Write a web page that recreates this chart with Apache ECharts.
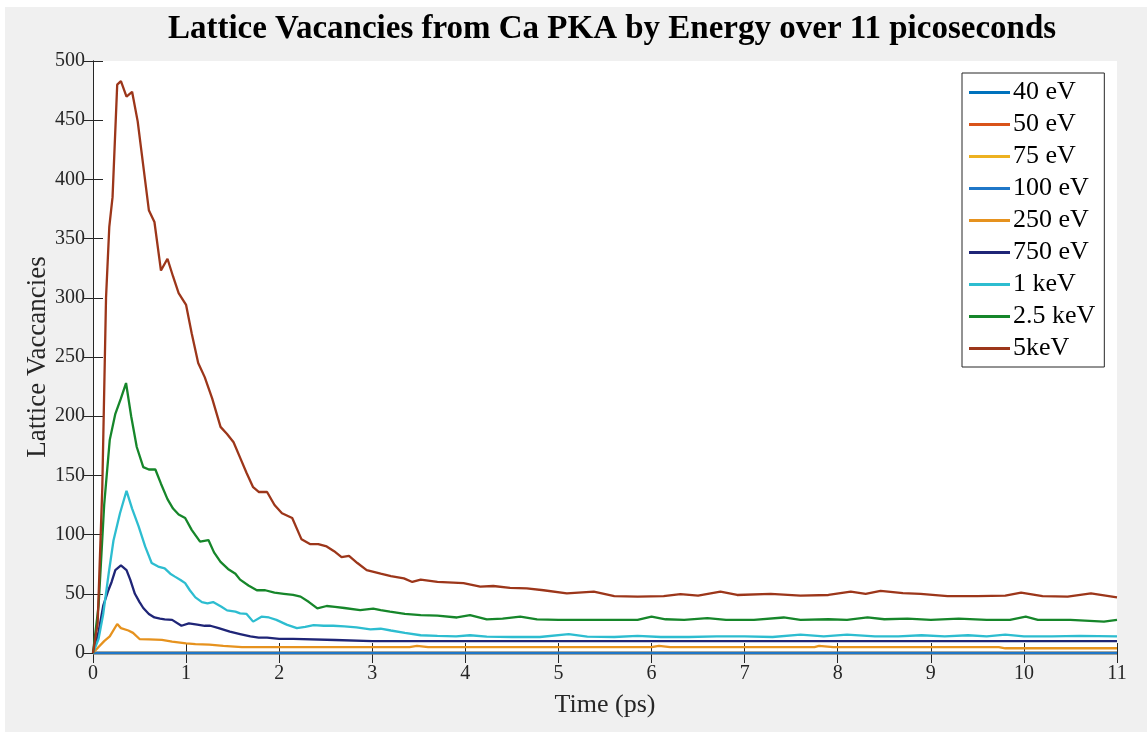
<!DOCTYPE html>
<html>
<head>
<meta charset="utf-8">
<script src="https://cdn.jsdelivr.net/npm/echarts@6/dist/echarts.min.js"></script>
<style>
html,body{margin:0;padding:0;background:#ffffff;width:1147px;height:732px;overflow:hidden;}
#chart{position:absolute;left:5px;top:7px;width:1142px;height:725px;}
</style>
</head>
<body>
<div id="chart"></div>
<script>
// ---- data ----
const seriesNames = ['40 eV','50 eV','75 eV','100 eV','250 eV','750 eV','1 keV','2.5 keV','5keV'];
const xTicks = [0,1,2,3,4,5,6,7,8,9,10,11];
const yTicks = [0,50,100,150,200,250,300,350,400,450,500];

const t40 = [0, 11];           const v40 = [0, 0];
const t50 = [0, 11];           const v50 = [0, 0];
const t75 = [0, 11];           const v75 = [0, 0];
const t100 = [0, 11];          const v100 = [0, 0];

const t250 = [0,0.06,0.12,0.18,0.26,0.3,0.38,0.43,0.5,0.6,0.74,0.85,1.0,1.1,1.25,1.4,1.6,3.4,3.48,3.6,6.0,6.08,6.2,7.75,7.8,7.95,9.73,9.8,11];
const v250 = [0,5,10,14,24.5,21,19,17,11.8,11.5,11,9.6,8.2,7.5,7,6,5,5,6,5,5,6,5,5,6,5,5,4,4];

const t750 = [0,0.06,0.11,0.165,0.2,0.24,0.3,0.36,0.4,0.45,0.5,0.54,0.6,0.66,0.72,0.77,0.85,0.95,1.03,1.12,1.2,1.26,1.35,1.47,1.58,1.69,1.78,1.87,2.0,2.15,2.6,3.0,11];
const v750 = [0,18,40,53,60,70,74,70,62,50,43,38,33,30,29,28.4,28,23,25,24,23,23,21,18,16,14,13,13,12,12,11,10,10];

const t1k = [0,0.06,0.11,0.17,0.22,0.29,0.36,0.42,0.49,0.56,0.63,0.7,0.77,0.83,0.88,0.94,0.99,1.04,1.1,1.17,1.23,1.29,1.38,1.44,1.53,1.58,1.65,1.72,1.81,1.89,1.97,2.08,2.19,2.28,2.37,2.48,2.58,2.7,2.83,2.98,3.09,3.2,3.35,3.52,3.7,3.9,4.05,4.23,4.5,4.8,5.11,5.31,5.6,5.85,6.1,6.4,6.7,7.0,7.3,7.6,7.85,8.1,8.4,8.65,8.9,9.15,9.4,9.6,9.8,10.0,10.3,10.6,11];
const v1k = [0,12,33,68,95,118,137,122,107,90,76,73,71.5,67,64.5,61.7,59,53,47,43,42,43,39,36,35,33.5,33,26.5,30.7,30,28,24,21,22,23.6,23,23,22.5,21.7,20,20.5,19,17,15,14.5,14,15,13.8,13.5,13.5,16,13.8,13.5,14.5,13.5,13.5,14,14,13.5,15.5,14,15.5,14,14,15,14,15,14,15.5,14,14,14.5,14];

const t2k5 = [0,0.06,0.12,0.18,0.24,0.3,0.355,0.41,0.47,0.54,0.6,0.67,0.73,0.8,0.86,0.92,0.99,1.06,1.15,1.24,1.3,1.37,1.45,1.53,1.58,1.67,1.76,1.85,1.95,2.05,2.15,2.23,2.32,2.41,2.51,2.6,2.7,2.87,3.01,3.09,3.19,3.35,3.52,3.7,3.91,4.05,4.23,4.4,4.59,4.77,5.0,5.3,5.6,5.85,6.0,6.15,6.35,6.6,6.8,7.1,7.42,7.6,7.9,8.1,8.32,8.5,8.75,9.0,9.3,9.6,9.85,10.02,10.15,10.5,10.86,11];
const v2k5 = [0,40,125,180,202,215,228,200,174,157,155,155,143,130,122,117,114,104,94,95.4,85,77,71,67,62,57,53,53,51,50,49,47.6,43,37.7,39.7,39,38,36.3,37.5,36.3,35,33,32,31.5,30,32,28.4,29,30.7,28.4,28,28,28,28,30.7,28.5,28,29.5,28,28,30,28,28.5,28,30,28.5,29,28,29,28,28,30.7,28,28,26.5,28];

const t5k = [0,0.05,0.1,0.14,0.175,0.21,0.26,0.3,0.36,0.42,0.48,0.6,0.66,0.73,0.8,0.86,0.92,1.0,1.06,1.13,1.2,1.28,1.37,1.44,1.51,1.58,1.65,1.72,1.78,1.87,1.95,2.03,2.14,2.24,2.33,2.42,2.51,2.59,2.67,2.75,2.84,2.94,3.09,3.2,3.34,3.43,3.52,3.7,3.98,4.16,4.3,4.48,4.66,4.84,5.09,5.38,5.6,5.85,6.13,6.31,6.5,6.74,6.92,7.28,7.6,7.9,8.14,8.3,8.46,8.7,8.89,9.18,9.5,9.8,9.97,10.2,10.47,10.72,11];
const v5k = [0,25,140,300,360,385,480,483,470,474,449,374,364,323,333,318,304,294,270,245,233,215,191,185,178,165,152,140,136,136,125,118,114,96,92,92,90,86,81,82,76,70,67,65,63,60,62,60,59,56,56.6,55,54.6,53,50.4,51.8,48,47.6,48,49.8,48.5,51.8,49,50,48.5,49,51.8,50,52.4,50.5,50,48,48,48.5,51,48,47.6,50.4,47];

const seriesTimes = [t40,t50,t75,t100,t250,t750,t1k,t2k5,t5k];
const seriesValues = [v40,v50,v75,v100,v250,v750,v1k,v2k5,v5k];
const seriesColors = ['#0072BD','#D95319','#EDB120','#1F77C8','#E6921E','#1F2577','#2DBDD0','#16862A','#9C361A'];

// ---- chart ----
const chart = echarts.init(document.getElementById('chart'), null, {renderer:'canvas'});
const serif = '"Liberation Serif", "Times New Roman", serif';
const axisCol = '#262626';

const series = seriesNames.map((name, i) => ({
  name: name,
  type: 'line',
  data: seriesTimes[i].map((t, k) => [t, seriesValues[i][k]]),
  showSymbol: false,
  symbol: 'none',
  clip: false,
  lineStyle: {width: 2.3, color: seriesColors[i]},
  itemStyle: {color: seriesColors[i]},
  emphasis: {disabled: true},
  animation: false
}));

const commonAxisLine = {show: true, lineStyle: {color: axisCol, width: 1}};

chart.setOption({
  backgroundColor: '#f0f0f0',
  animation: false,
  title: {
    text: 'Lattice Vacancies from Ca PKA by Energy over 11 picoseconds',
    left: 602,
    textAlign: 'center',
    top: 1,
    textStyle: {fontFamily: serif, fontWeight: 'bold', fontSize: 33, color: '#000'}
  },
  legend: {
    data: seriesNames,
    orient: 'vertical',
    left: 957,
    top: 66,
    itemWidth: 41,
    itemHeight: 3,
    itemGap: 5,
    icon: 'rect',
    padding: [6, 9, 5, 7],
    backgroundColor: '#ffffff',
    borderColor: '#262626',
    borderWidth: 1,
    borderRadius: 0,
    textStyle: {fontFamily: serif, fontSize: 26, color: '#000', lineHeight: 27, padding: [0,0,0,-2]}
  },
  grid: {left: 88, top: 54, right: 30, bottom: 79, containLabel: false, show: true, backgroundColor: '#ffffff', borderWidth: 0},
  xAxis: [{
    type: 'value', min: 0, max: 11, interval: 1,
    name: 'Time (ps)', nameLocation: 'middle', nameGap: 39,
    nameTextStyle: {fontFamily: serif, fontSize: 26, color: axisCol},
    axisLine: commonAxisLine,
    axisTick: {show: true, inside: true, length: 10, lineStyle: {color: axisCol}},
    axisLabel: {fontFamily: serif, fontSize: 20, color: axisCol, margin: 11},
    splitLine: {show: false}
  },{
    type: 'value', min: 0, max: 11, interval: 1, position: 'top',
    axisLine: commonAxisLine,
    axisTick: {show: true, inside: true, length: 10, lineStyle: {color: axisCol}},
    axisLabel: {show: false}, splitLine: {show: false}
  }],
  yAxis: [{
    type: 'value', min: 0, max: 500, interval: 50,
    name: 'Lattice Vaccancies', nameLocation: 'middle', nameGap: 42,
    nameMoveOverlap: false,
    nameTextStyle: {fontFamily: serif, fontSize: 27, color: axisCol},
    axisLine: commonAxisLine,
    axisTick: {show: true, inside: true, length: 10, lineStyle: {color: axisCol}},
    axisLabel: {fontFamily: serif, fontSize: 20, color: axisCol, margin: 8},
    splitLine: {show: false}
  },{
    type: 'value', min: 0, max: 500, interval: 50, position: 'right',
    axisLine: commonAxisLine,
    axisTick: {show: true, inside: true, length: 10, lineStyle: {color: axisCol}},
    axisLabel: {show: false}, splitLine: {show: false}
  }],
  series: series
});
</script>
</body>
</html>
